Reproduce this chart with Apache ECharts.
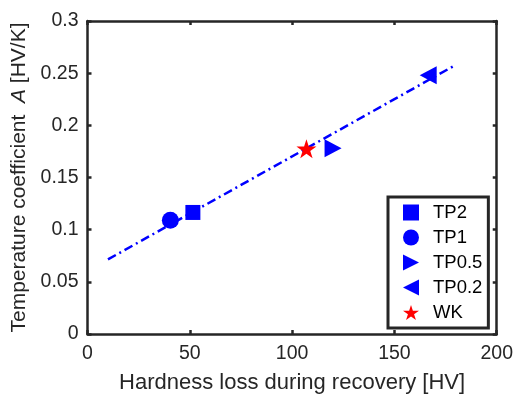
<!DOCTYPE html>
<html><head><meta charset="utf-8">
<script src="https://cdn.jsdelivr.net/npm/echarts@6/dist/echarts.min.js"></script>
<style>html,body{margin:0;padding:0;background:#fff}#c{width:516px;height:399px}</style>
</head><body><div id="c"></div>
<script>
const seriesNames = ['TP2','TP1','TP0.5','TP0.2','WK'];
const tp2 = [[51.5, 0.1165]];
const tp1 = [[40.5, 0.109]];
const tp05 = [[120, 0.178]];
const tp02 = [[166.5, 0.248]];
const wk = [[107, 0.1775]];
const fitLine = [[10, 0.0715], [180, 0.258]];
const xTicks = [0, 50, 100, 150, 200];
const yTicks = [0, 0.05, 0.1, 0.15, 0.2, 0.25, 0.3];

const FONT = 'Liberation Sans, Arial, sans-serif';
const BLUE = '#0000ff';
const TXT = '#262626';
const STAR = 'path://M50,0 L61.2,34.5 L97.6,34.5 L68.2,55.9 L79.4,90.5 L50,69.1 L20.6,90.5 L31.8,55.9 L2.4,34.5 L38.8,34.5 Z';
const TRI_R = 'path://M0,0 L10,5 L0,10 Z';
const TRI_L = 'path://M10,0 L0,5 L10,10 Z';

const chart = echarts.init(document.getElementById('c'), null, {renderer:'canvas'});
const axisCommon = {
  axisLine:{show:true, onZero:false, lineStyle:{color:TXT, width:2.5}},
  axisTick:{show:true, inside:true, length:4, lineStyle:{color:TXT, width:2.5}},
  splitLine:{show:false}
};
chart.setOption({
  animation:false,
  grid:{left:87.5, top:21, right:18, bottom:65, containLabel:false},
  xAxis:[
    Object.assign({type:'value', min:xTicks[0], max:xTicks[xTicks.length-1], interval:50, position:'bottom',
      name:'Hardness loss during recovery [HV]', nameLocation:'middle', nameGap:38,
      nameTextStyle:{fontFamily:FONT, fontSize:22, color:TXT},
      axisLabel:{fontFamily:FONT, fontSize:19.5, color:TXT, margin:10}}, axisCommon),
    Object.assign({type:'value', min:0, max:200, interval:50, position:'top', axisLabel:{show:false}}, axisCommon)
  ],
  yAxis:[
    Object.assign({type:'value', min:yTicks[0], max:yTicks[yTicks.length-1], interval:0.05, position:'left',
      name:'{n|Temperature coefficient  }{i|A}{n| [HV/K]}', nameLocation:'middle', nameGap:56, nameRotate:90,
      nameTextStyle:{rich:{n:{fontFamily:FONT, fontSize:21, color:TXT}, i:{fontFamily:FONT, fontSize:21, fontStyle:'italic', color:TXT}}},
      axisLabel:{fontFamily:FONT, fontSize:19.5, color:TXT, margin:9,
        formatter:v=>String(Math.round(v*100)/100)}}, axisCommon),
    Object.assign({type:'value', min:0, max:0.3, interval:0.05, position:'right', axisLabel:{show:false}}, axisCommon)
  ],
  legend:{
    data:seriesNames, orient:'vertical', left:388, top:197,
    backgroundColor:'#fff', borderColor:TXT, borderWidth:3,
    padding:[6, 6, 6, 15], itemWidth:16, itemHeight:16, itemGap:6,
    textStyle:{fontFamily:FONT, fontSize:18.5, lineHeight:16, color:'#000', padding:[0,0,0,9]}
  },
  series:[
    {type:'line', name:'fit', data:fitLine, symbol:'none', lineStyle:{color:BLUE, width:2.5, type:[9,4,2,4]}, z:1},
    {type:'scatter', name:'TP2', data:tp2, symbol:'rect', symbolSize:15, itemStyle:{color:BLUE, opacity:1}, z:3},
    {type:'scatter', name:'TP1', data:tp1, symbol:'circle', symbolSize:17, itemStyle:{color:BLUE, opacity:1}, z:3},
    {type:'scatter', name:'TP0.5', data:tp05, symbol:TRI_R, symbolSize:[17,18], itemStyle:{color:BLUE, opacity:1}, z:3},
    {type:'scatter', name:'TP0.2', data:tp02, symbol:TRI_L, symbolSize:[17,18], itemStyle:{color:BLUE, opacity:1}, z:3},
    {type:'scatter', name:'WK', data:wk, symbol:STAR, symbolSize:[20,19], itemStyle:{color:'#ff0000', opacity:1}, z:4}
  ]
});
</script></body></html>
